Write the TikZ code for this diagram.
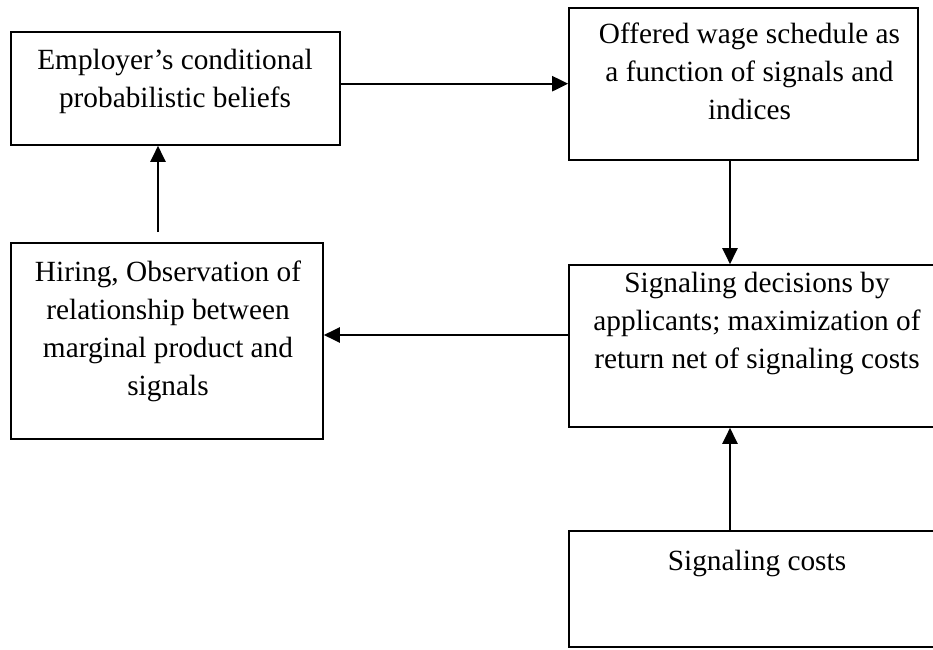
\documentclass[tikz,border=0pt]{standalone}
\usepackage{fontspec}
\setmainfont{Liberation Serif}
\usetikzlibrary{arrows.meta}
\newcommand\stack[1]{\begin{tabular}[t]{@{}c@{}}#1\end{tabular}}
\begin{document}
\begin{tikzpicture}[x=1pt,y=1pt,
  box/.style={draw=black,line width=1.6pt,rectangle,inner sep=0pt},
  txt/.style={inner sep=0pt,anchor=base,
    font=\fontsize{29.3}{38}\selectfont},
  arr/.style={line width=2.2pt,-{Triangle[length=16pt,width=15pt]}}]
\useasboundingbox (0,0) rectangle (933,649);
% boxes (frames only)
\node[box,minimum width=329pt,minimum height=113pt] (e) at (175.5,560.5) {};
\node[box,minimum width=349pt,minimum height=152pt] (w) at (743.5,565) {};
\node[box,minimum width=312pt,minimum height=196pt] (h) at (167,308) {};
\node[box,minimum width=376pt,minimum height=162pt] (s) at (757,303) {};
\node[box,minimum width=376pt,minimum height=116pt] (c) at (757,60) {};
% texts, placed by the baseline of their first line
\node[txt] (et) at (175,579) {\stack{Employer’s conditional\\probabilistic beliefs}};
\node[txt] (wt) at (749.5,605.7) {\stack{Offered wage schedule as\\a function of signals and\\indices}};
\node[txt] (ht) at (168,367.3) {\stack{Hiring, Observation of\\relationship between\\marginal product and\\signals}};
\node[txt] (st) at (757,357) {\stack{Signaling decisions by\\applicants; maximization of\\return net of signaling costs}};
\node[txt] (ct) at (757,79) {Signaling costs};
% connectors
\coordinate (a1) at ([yshift=4.8pt]e.east);
\draw[arr] (a1) -- (a1 -| w.west);
\coordinate (a2) at ([xshift=-13.5pt]w.south);
\draw[arr] (a2) -- (a2 |- s.north);
\coordinate (a3) at ([yshift=11pt]s.west);
\draw[arr] (a3) -- (a3 -| h.east);
\coordinate (a4) at ([xshift=-9pt,yshift=10pt]h.north);
\draw[arr] (a4) -- (a4 |- e.south);
\coordinate (a5) at ([xshift=-27pt]c.north);
\draw[arr] (a5) -- (a5 |- s.south);
\end{tikzpicture}
\end{document}
